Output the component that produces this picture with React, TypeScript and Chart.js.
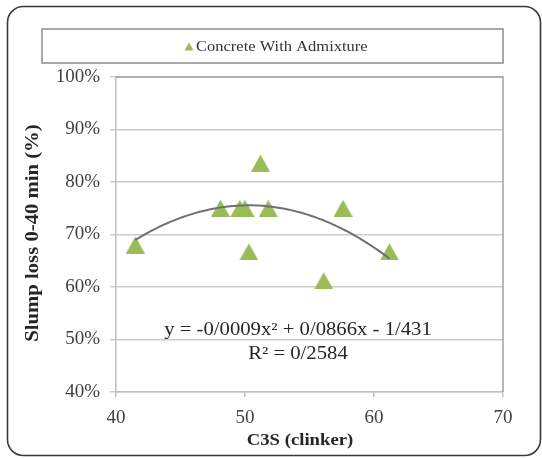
import React, { useEffect, useRef } from "react";
import { Chart, registerables } from "chart.js";

Chart.register(...registerables);

const seriesLabel = "Concrete With Admixture";
const c3s = [41.5, 48.1, 49.6, 50.0, 50.3, 51.2, 51.8, 56.1, 57.6, 61.2];
const slumpLoss = [0.68, 0.75, 0.75, 0.75, 0.667, 0.836, 0.75, 0.612, 0.75, 0.667];
// quadratic trendline y = a*x^2 + b*x + c (as drawn)
const trendA = -0.000853;
const trendB = 0.0858;
const trendC = -1.402;
const equationText = "y = -0/0009x² + 0/0866x - 1/431";
const r2Text = "R² = 0/2584";
const xTicks = [40, 50, 60, 70];
const yTicks = [0.4, 0.5, 0.6, 0.7, 0.8, 0.9, 1.0];
const xTitle = "C3S (clinker)";
const yTitle = "Slump loss 0-40 min (%)";

const GREEN = "#9BBB59";
const SERIF = "'Liberation Serif', 'Times New Roman', serif";

function makeTriangle(w: number, h: number, color: string) {
  const c = document.createElement("canvas");
  c.width = w;
  c.height = h;
  const g = c.getContext("2d")!;
  g.fillStyle = color;
  g.beginPath();
  g.moveTo(w / 2, 0);
  g.lineTo(w, h);
  g.lineTo(0, h);
  g.closePath();
  g.fill();
  return c;
}

function stretchText(
  ctx: CanvasRenderingContext2D,
  text: string,
  x: number,
  y: number,
  font: string,
  color: string,
  sx: number,
  align: CanvasTextAlign = "center",
  rotate = 0
) {
  ctx.save();
  ctx.translate(x, y);
  if (rotate) ctx.rotate(rotate);
  ctx.scale(sx, 1);
  ctx.font = font;
  ctx.fillStyle = color;
  ctx.textAlign = align;
  ctx.textBaseline = "middle";
  ctx.fillText(text, 0, 0);
  ctx.restore();
}

const decor = {
  id: "decor",
  beforeDraw(chart: any) {
    const ctx = chart.ctx as CanvasRenderingContext2D;
    ctx.save();
    ctx.fillStyle = "#ffffff";
    ctx.fillRect(0, 0, chart.width, chart.height);
    ctx.restore();
  },
  afterDraw(chart: any) {
    const ctx = chart.ctx as CanvasRenderingContext2D;
    const a = chart.chartArea;
    ctx.save();
    // plot frame (top and right)
    ctx.strokeStyle = "#a0a0a0";
    ctx.lineWidth = 1.5;
    ctx.beginPath();
    ctx.moveTo(a.left, a.top);
    ctx.lineTo(a.right, a.top);
    ctx.lineTo(a.right, a.bottom);
    ctx.stroke();

    // outer rounded border
    ctx.strokeStyle = "#3a3a3a";
    ctx.lineWidth = 1.6;
    ctx.beginPath();
    (ctx as any).roundRect(7.5, 6.5, 533, 449, 16);
    ctx.stroke();

    // legend box
    ctx.strokeStyle = "#8c8c8c";
    ctx.lineWidth = 1.5;
    ctx.strokeRect(42, 29, 461, 34);
    const label = chart.data.datasets[1].label as string;
    ctx.fillStyle = GREEN;
    ctx.beginPath();
    ctx.moveTo(189, 42.5);
    ctx.lineTo(193.5, 50.5);
    ctx.lineTo(184.5, 50.5);
    ctx.closePath();
    ctx.fill();
    stretchText(ctx, label, 196, 47, `15px ${SERIF}`, "#333333", 1.1, "left");

    // trendline equation
    stretchText(ctx, equationText, 298, 330, `18px ${SERIF}`, "#262626", 1.15);
    stretchText(ctx, r2Text, 298, 354, `18px ${SERIF}`, "#262626", 1.15);

    // axis titles
    stretchText(ctx, xTitle, 300, 441, `bold 17px ${SERIF}`, "#262626", 1.1);
    stretchText(ctx, yTitle, 33, 233, `bold 18px ${SERIF}`, "#262626", 1.15, "center", -Math.PI / 2);
    ctx.restore();
  },
};

export default function App() {
  const ref = useRef<HTMLCanvasElement | null>(null);

  useEffect(() => {
    if (!ref.current) return;
    const marker = makeTriangle(19, 17, GREEN);
    const xMin = Math.min(...c3s);
    const xMax = Math.max(...c3s);
    const trendPts: { x: number; y: number }[] = [];
    const steps = 80;
    for (let i = 0; i <= steps; i++) {
      const x = xMin + ((xMax - xMin) * i) / steps;
      trendPts.push({ x, y: trendA * x * x + trendB * x + trendC });
    }
    const points = c3s.map((x, i) => ({ x, y: slumpLoss[i] }));

    const chart = new Chart(ref.current, {
      type: "scatter",
      data: {
        datasets: [
          {
            type: "line",
            label: "Trendline",
            data: trendPts,
            borderColor: "#707070",
            borderWidth: 2,
            pointRadius: 0,
            fill: false,
            tension: 0,
            order: 0,
          } as any,
          {
            label: seriesLabel,
            data: points,
            pointStyle: marker as any,
            pointRadius: 10,
            backgroundColor: GREEN,
            borderColor: GREEN,
            order: 1,
          },
        ],
      },
      options: {
        responsive: false,
        animation: false,
        events: [],
        layout: { padding: { top: 77, right: 39, left: 0, bottom: 0 } },
        plugins: {
          legend: { display: false },
          title: { display: false },
          tooltip: { enabled: false },
        },
        scales: {
          x: {
            type: "linear",
            min: 40,
            max: 70,
            afterFit: (s: any) => {
              s.height = 66;
            },
            afterBuildTicks: (s: any) => {
              s.ticks = xTicks.map((v) => ({ value: v }));
            },
            grid: {
              display: true,
              drawOnChartArea: false,
              drawTicks: true,
              tickLength: 5,
              color: "#bfbfbf",
              lineWidth: 1.5,
            },
            border: { display: true, color: "#bfbfbf", width: 1.5 },
            ticks: {
              padding: 10,
              color: "#404040",
              font: { family: SERIF, size: 19 },
              maxRotation: 0,
            },
          },
          y: {
            type: "linear",
            min: 0.4,
            max: 1.0,
            afterFit: (s: any) => {
              s.width = 116;
            },
            afterBuildTicks: (s: any) => {
              s.ticks = yTicks.map((v) => ({ value: v }));
            },
            grid: {
              display: true,
              drawOnChartArea: true,
              drawTicks: true,
              tickLength: 6,
              color: "#cccccc",
              lineWidth: 1.5,
            },
            border: { display: true, color: "#bfbfbf", width: 1.5 },
            ticks: {
              padding: 10,
              color: "#404040",
              font: { family: SERIF, size: 19 },
              callback: (v: any) => Math.round(Number(v) * 100) + "%",
            },
          },
        },
      },
      plugins: [decor],
    });
    return () => chart.destroy();
  }, []);

  return (
    <div style={{ position: "absolute", left: 0, top: 0, width: 542, height: 458 }}>
      <canvas ref={ref} width={542} height={458} style={{ display: "block" }} />
    </div>
  );
}
